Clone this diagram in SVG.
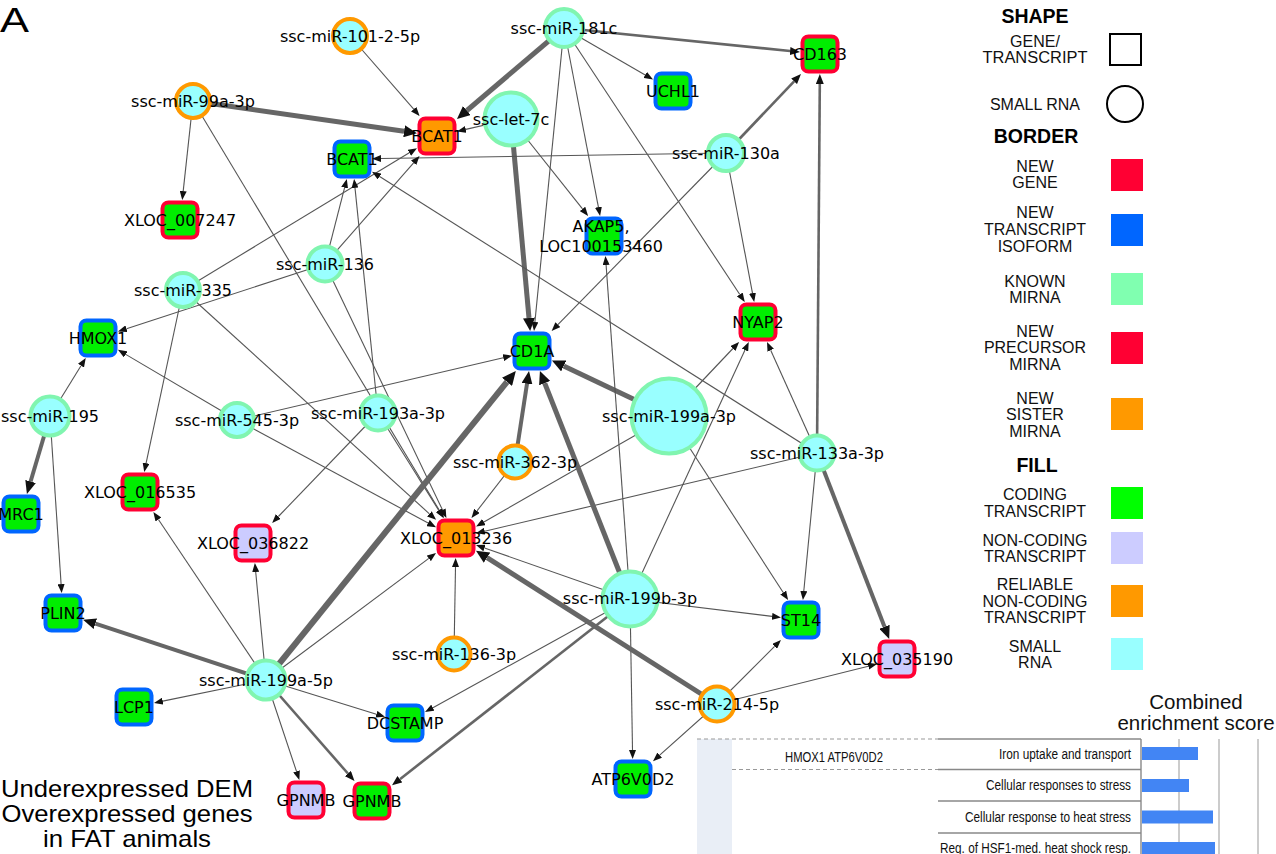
<svg xmlns="http://www.w3.org/2000/svg" width="1276" height="854" viewBox="0 0 1276 854">
<defs>
<style>
.lbl{font-family:"DejaVu Sans",sans-serif;font-size:16px;fill:#000;text-anchor:middle}
.sr{fill:#99ffff;stroke-width:4}
.sq{stroke-width:4}
.bo{stroke:#ff9900}.bk{stroke:#80f5b0}.br{stroke:#ff0033}.bb{stroke:#0066ff}
.fg{fill:#00ee00}.fl{fill:#ccccff}.fo{fill:#ff9900}
.e1{stroke:#555;stroke-width:1.1;fill:none;marker-end:url(#a1)}
.e2{stroke:#666;stroke-width:2.6;fill:none;marker-end:url(#a2)}
.e3{stroke:#666;stroke-width:4;fill:none;marker-end:url(#a3)}
.e4{stroke:#666;stroke-width:5;fill:none;marker-end:url(#a4)}
.e5{stroke:#666;stroke-width:6;fill:none;marker-end:url(#a5)}
.lg{font-family:"Liberation Sans",Arial,sans-serif;font-size:16px;fill:#111;text-anchor:middle}
.lh{font-family:"Liberation Sans",Arial,sans-serif;font-size:19.5px;font-weight:bold;fill:#000;text-anchor:middle}
.ct{font-family:"Liberation Sans",Arial,sans-serif;font-size:14px;fill:#111}
.grid{stroke:#999;stroke-width:1}
.bar{fill:#4285f4}
</style>
<marker id="a1" markerUnits="userSpaceOnUse" markerWidth="9" markerHeight="7" refX="0" refY="3.5" orient="auto"><path d="M0,0 L9,3.5 L0,7 z" fill="#111"/></marker>
<marker id="a2" markerUnits="userSpaceOnUse" markerWidth="10" markerHeight="8" refX="0" refY="4" orient="auto"><path d="M0,0 L10,4 L0,8 z" fill="#111"/></marker>
<marker id="a3" markerUnits="userSpaceOnUse" markerWidth="13" markerHeight="11" refX="0" refY="5.5" orient="auto"><path d="M0,0 L13,5.5 L0,11 z" fill="#111"/></marker>
<marker id="a4" markerUnits="userSpaceOnUse" markerWidth="13" markerHeight="12" refX="0" refY="6" orient="auto"><path d="M0,0 L13,6 L0,12 z" fill="#111"/></marker>
<marker id="a5" markerUnits="userSpaceOnUse" markerWidth="14" markerHeight="13" refX="0" refY="6.5" orient="auto"><path d="M0,0 L14,6.5 L0,13 z" fill="#111"/></marker>
</defs>
<rect width="1276" height="854" fill="#fff"/>
<text x="0" y="32" font-family="Liberation Sans, Arial, sans-serif" font-size="35" textLength="29" lengthAdjust="spacingAndGlyphs">A</text>

<g id="edges">
<line class="e1" x1="350" y1="36" x2="413.7" y2="109.2"/>
<line class="e4" x1="193" y1="101" x2="404.1" y2="131.3"/>
<line class="e1" x1="193" y1="101" x2="183.2" y2="191.1"/>
<line class="e1" x1="193" y1="101" x2="439.3" y2="510.3"/>
<line class="e4" x1="564" y1="28" x2="466.9" y2="110.5"/>
<line class="e2" x1="564" y1="28" x2="790.1" y2="51"/>
<line class="e1" x1="564" y1="28" x2="645.2" y2="74.9"/>
<line class="e1" x1="564" y1="28" x2="598.4" y2="207.1"/>
<line class="e1" x1="564" y1="28" x2="534.9" y2="322"/>
<line class="e1" x1="564" y1="28" x2="739.8" y2="294.5"/>
<line class="e1" x1="511" y1="119" x2="465.8" y2="129.4"/>
<line class="e4" x1="511" y1="119" x2="529" y2="318"/>
<line class="e1" x1="511" y1="119" x2="582.5" y2="208.9"/>
<line class="e2" x1="726" y1="153" x2="794.1" y2="81.3"/>
<line class="e1" x1="726" y1="153" x2="381" y2="158.5"/>
<line class="e1" x1="726" y1="153" x2="752.5" y2="293.1"/>
<line class="e1" x1="726" y1="153" x2="557.9" y2="324.6"/>
<line class="e1" x1="325" y1="264" x2="344.6" y2="187.7"/>
<line class="e1" x1="325" y1="264" x2="413.6" y2="162.8"/>
<line class="e1" x1="325" y1="264" x2="126.5" y2="328.7"/>
<line class="e1" x1="325" y1="264" x2="442.5" y2="509.9"/>
<line class="e1" x1="183" y1="290" x2="409.3" y2="152.8"/>
<line class="e1" x1="183" y1="290" x2="146.1" y2="463.2"/>
<line class="e1" x1="183" y1="290" x2="429.4" y2="513.8"/>
<line class="e1" x1="50" y1="416" x2="81" y2="365.7"/>
<line class="e3" x1="50" y1="416" x2="30.6" y2="481.5"/>
<line class="e1" x1="50" y1="416" x2="61.1" y2="584.1"/>
<line class="e1" x1="237" y1="420" x2="125.7" y2="354.4"/>
<line class="e1" x1="237" y1="420" x2="503.3" y2="357.7"/>
<line class="e1" x1="237" y1="420" x2="428.1" y2="523"/>
<line class="e1" x1="378" y1="413" x2="355" y2="187.9"/>
<line class="e1" x1="378" y1="413" x2="278.4" y2="516.5"/>
<line class="e1" x1="378" y1="413" x2="438.7" y2="510.3"/>
<line class="e4" x1="669" y1="416" x2="563.7" y2="366"/>
<line class="e1" x1="669" y1="416" x2="732.9" y2="348.5"/>
<line class="e1" x1="669" y1="416" x2="483.9" y2="522"/>
<line class="e1" x1="669" y1="416" x2="783.2" y2="592.5"/>
<line class="e2" x1="817" y1="453" x2="819.8" y2="84"/>
<line class="e1" x1="817" y1="453" x2="770.7" y2="350.2"/>
<line class="e1" x1="817" y1="453" x2="379.6" y2="176.5"/>
<line class="e1" x1="817" y1="453" x2="484.7" y2="531.2"/>
<line class="e1" x1="817" y1="453" x2="803.8" y2="591"/>
<line class="e3" x1="817" y1="453" x2="884.5" y2="626.8"/>
<line class="e3" x1="515" y1="462" x2="527" y2="383.8"/>
<line class="e1" x1="515" y1="462" x2="477" y2="510.9"/>
<line class="e4" x1="630" y1="599" x2="544.7" y2="383.1"/>
<line class="e1" x1="630" y1="599" x2="745" y2="350.1"/>
<line class="e1" x1="630" y1="599" x2="606.1" y2="265"/>
<line class="e1" x1="630" y1="599" x2="484.5" y2="548"/>
<line class="e1" x1="630" y1="599" x2="772.1" y2="616.4"/>
<line class="e1" x1="630" y1="599" x2="632.5" y2="750"/>
<line class="e1" x1="630" y1="599" x2="432.9" y2="707.7"/>
<line class="e2" x1="630" y1="599" x2="399.9" y2="779.2"/>
<line class="e1" x1="454" y1="654" x2="455.5" y2="567"/>
<line class="e4" x1="717" y1="704" x2="487" y2="557.7"/>
<line class="e1" x1="717" y1="704" x2="774.6" y2="646.4"/>
<line class="e1" x1="717" y1="704" x2="868.3" y2="666.2"/>
<line class="e1" x1="717" y1="704" x2="659.7" y2="755.2"/>
<line class="e5" x1="266" y1="680" x2="507" y2="381.9"/>
<line class="e3" x1="266" y1="680" x2="95.4" y2="623.7"/>
<line class="e1" x1="266" y1="680" x2="162.8" y2="701.1"/>
<line class="e1" x1="266" y1="680" x2="376.4" y2="714.2"/>
<line class="e1" x1="266" y1="680" x2="296.5" y2="771.4"/>
<line class="e2" x1="266" y1="680" x2="347.9" y2="773.5"/>
<line class="e1" x1="266" y1="680" x2="255.7" y2="572"/>
<line class="e1" x1="266" y1="680" x2="158.4" y2="519.5"/>
<line class="e1" x1="266" y1="680" x2="428.8" y2="558.4"/>
</g>

<g id="n-ssc-miR-101-2-5p"><circle class="sr bo" cx="350" cy="36" r="17"/><text class="lbl" x="350" y="42">ssc-miR-101-2-5p</text></g>
<g id="n-ssc-miR-99a-3p"><circle class="sr bo" cx="193" cy="101" r="17"/><text class="lbl" x="193" y="107">ssc-miR-99a-3p</text></g>
<g id="n-ssc-miR-181c"><circle class="sr bk" cx="564" cy="28" r="19"/><text class="lbl" x="564" y="34">ssc-miR-181c</text></g>
<g id="n-ssc-let-7c"><circle class="sr bk" cx="511" cy="119" r="26.5"/><text class="lbl" x="511" y="125">ssc-let-7c</text></g>
<g id="n-ssc-miR-130a"><circle class="sr bk" cx="726" cy="153" r="18"/><text class="lbl" x="726" y="159">ssc-miR-130a</text></g>
<g id="n-ssc-miR-136"><circle class="sr bk" cx="325" cy="264" r="17.5"/><text class="lbl" x="325" y="270">ssc-miR-136</text></g>
<g id="n-ssc-miR-335"><circle class="sr bk" cx="183" cy="290" r="17"/><text class="lbl" x="183" y="296">ssc-miR-335</text></g>
<g id="n-ssc-miR-195"><circle class="sr bk" cx="50" cy="416" r="19.5"/><text class="lbl" x="50" y="422">ssc-miR-195</text></g>
<g id="n-ssc-miR-545-3p"><circle class="sr bk" cx="237" cy="420" r="17"/><text class="lbl" x="237" y="426">ssc-miR-545-3p</text></g>
<g id="n-ssc-miR-193a-3p"><circle class="sr bk" cx="378" cy="413" r="17.5"/><text class="lbl" x="378" y="419">ssc-miR-193a-3p</text></g>
<g id="n-ssc-miR-199a-3p"><circle class="sr bk" cx="669" cy="416" r="37.5"/><text class="lbl" x="669" y="422">ssc-miR-199a-3p</text></g>
<g id="n-ssc-miR-362-3p"><circle class="sr bo" cx="515" cy="462" r="16.5"/><text class="lbl" x="515" y="468">ssc-miR-362-3p</text></g>
<g id="n-ssc-miR-133a-3p"><circle class="sr bk" cx="817" cy="453" r="17.5"/><text class="lbl" x="817" y="459">ssc-miR-133a-3p</text></g>
<g id="n-ssc-miR-199b-3p"><circle class="sr bk" cx="630" cy="599" r="27.5"/><text class="lbl" x="630" y="604">ssc-miR-199b-3p</text></g>
<g id="n-ssc-miR-136-3p"><circle class="sr bo" cx="454" cy="654" r="16.5"/><text class="lbl" x="454" y="660">ssc-miR-136-3p</text></g>
<g id="n-ssc-miR-214-5p"><circle class="sr bo" cx="717" cy="704" r="17.5"/><text class="lbl" x="717" y="710">ssc-miR-214-5p</text></g>
<g id="n-ssc-miR-199a-5p"><circle class="sr bk" cx="266" cy="680" r="19.5"/><text class="lbl" x="266" y="686">ssc-miR-199a-5p</text></g>

<g id="n-BCAT1-new"><rect class="sq br fo" x="419.5" y="118.5" width="35" height="35" rx="6"/><text class="lbl" x="437" y="142">BCAT1</text></g>
<g id="n-BCAT1-isoform"><rect class="sq bb fg" x="334.5" y="141.5" width="35" height="35" rx="6"/><text class="lbl" x="352" y="165">BCAT1</text></g>
<g id="n-XLOC_007247"><rect class="sq br fg" x="162.5" y="202.5" width="35" height="35" rx="6"/><text class="lbl" x="180" y="226">XLOC_007247</text></g>
<g id="n-UCHL1"><rect class="sq bb fg" x="655.5" y="73.5" width="35" height="35" rx="6"/><text class="lbl" x="673" y="97">UCHL1</text></g>
<g id="n-CD163"><rect class="sq br fg" x="802.5" y="36.5" width="35" height="35" rx="6"/><text class="lbl" x="820" y="60">CD163</text></g>
<g id="n-AKAP5"><rect class="sq bb fg" x="586.5" y="218.5" width="35" height="35" rx="6"/><text class="lbl" x="601" y="232">AKAP5,</text><text class="lbl" x="601" y="251.5">LOC100153460</text></g>
<g id="n-HMOX1"><rect class="sq bb fg" x="80.5" y="320.5" width="35" height="35" rx="6"/><text class="lbl" x="98" y="344">HMOX1</text></g>
<g id="n-MRC1"><rect class="sq bb fg" x="3.5" y="496.5" width="35" height="35" rx="6"/><text class="lbl" x="21" y="520">MRC1</text></g>
<g id="n-XLOC_016535"><rect class="sq br fg" x="122.5" y="474.5" width="35" height="35" rx="6"/><text class="lbl" x="140" y="498">XLOC_016535</text></g>
<g id="n-XLOC_036822"><rect class="sq br fl" x="235.5" y="525.5" width="35" height="35" rx="6"/><text class="lbl" x="253" y="549">XLOC_036822</text></g>
<g id="n-XLOC_013236"><rect class="sq br fo" x="438.5" y="520.5" width="35" height="35" rx="6"/><text class="lbl" x="456" y="544">XLOC_013236</text></g>
<g id="n-CD1A"><rect class="sq bb fg" x="514.5" y="333.5" width="35" height="35" rx="6"/><text class="lbl" x="532" y="357">CD1A</text></g>
<g id="n-NYAP2"><rect class="sq br fg" x="740.5" y="304.5" width="35" height="35" rx="6"/><text class="lbl" x="758" y="328">NYAP2</text></g>
<g id="n-PLIN2"><rect class="sq bb fg" x="45.5" y="595.5" width="35" height="35" rx="6"/><text class="lbl" x="63" y="619">PLIN2</text></g>
<g id="n-LCP1"><rect class="sq bb fg" x="116.5" y="689.5" width="35" height="35" rx="6"/><text class="lbl" x="134" y="713">LCP1</text></g>
<g id="n-DCSTAMP"><rect class="sq bb fg" x="387.5" y="705.5" width="35" height="35" rx="6"/><text class="lbl" x="405" y="729">DCSTAMP</text></g>
<g id="n-GPNMB-noncoding"><rect class="sq br fl" x="288.5" y="782.5" width="35" height="35" rx="6"/><text class="lbl" x="306" y="806">GPNMB</text></g>
<g id="n-GPNMB-coding"><rect class="sq br fg" x="354.5" y="783.5" width="35" height="35" rx="6"/><text class="lbl" x="372" y="807">GPNMB</text></g>
<g id="n-ST14"><rect class="sq bb fg" x="783.5" y="602.5" width="35" height="35" rx="6"/><text class="lbl" x="801" y="626">ST14</text></g>
<g id="n-XLOC_035190"><rect class="sq br fl" x="879.5" y="641.5" width="35" height="35" rx="6"/><text class="lbl" x="897" y="665">XLOC_035190</text></g>
<g id="n-ATP6V0D2"><rect class="sq bb fg" x="615.5" y="761.5" width="35" height="35" rx="6"/><text class="lbl" x="633" y="785">ATP6V0D2</text></g>

<g id="caption" font-family="Liberation Sans, Arial, sans-serif" font-size="24" text-anchor="middle" fill="#000">
<text x="127" y="797" textLength="252" lengthAdjust="spacingAndGlyphs">Underexpressed DEM</text>
<text x="127" y="822" textLength="251" lengthAdjust="spacingAndGlyphs">Overexpressed genes</text>
<text x="127" y="847" textLength="168" lengthAdjust="spacingAndGlyphs">in FAT animals</text>
</g>

<g id="legend">
<text class="lh" x="1035" y="23">SHAPE</text>
<text class="lg" x="1035" y="47">GENE/</text>
<text class="lg" x="1035" y="63" textLength="105" lengthAdjust="spacingAndGlyphs">TRANSCRIPT</text>
<rect x="1110" y="34" width="31" height="31" fill="#fff" stroke="#000" stroke-width="2"/>
<text class="lg" x="1035" y="110">SMALL RNA</text>
<circle cx="1125" cy="104" r="18" fill="#fff" stroke="#000" stroke-width="2"/>
<text class="lh" x="1036" y="143">BORDER</text>
<text class="lg" x="1035" y="172">NEW</text>
<text class="lg" x="1035" y="188">GENE</text>
<rect x="1111" y="159" width="32" height="32" fill="#ff0033"/>
<text class="lg" x="1035" y="218">NEW</text>
<text class="lg" x="1035" y="235">TRANSCRIPT</text>
<text class="lg" x="1035" y="252">ISOFORM</text>
<rect x="1111" y="214" width="32" height="32" fill="#0066ff"/>
<text class="lg" x="1035" y="287">KNOWN</text>
<text class="lg" x="1035" y="303">MIRNA</text>
<rect x="1111" y="273" width="32" height="32" fill="#80ffb0"/>
<text class="lg" x="1035" y="337">NEW</text>
<text class="lg" x="1035" y="353">PRECURSOR</text>
<text class="lg" x="1035" y="370">MIRNA</text>
<rect x="1111" y="332" width="32" height="32" fill="#ff0033"/>
<text class="lg" x="1035" y="404">NEW</text>
<text class="lg" x="1035" y="420">SISTER</text>
<text class="lg" x="1035" y="437">MIRNA</text>
<rect x="1111" y="398" width="32" height="32" fill="#ff9900"/>
<text class="lh" x="1037" y="472">FILL</text>
<text class="lg" x="1035" y="500">CODING</text>
<text class="lg" x="1035" y="517">TRANSCRIPT</text>
<rect x="1111" y="487" width="32" height="32" fill="#00ff00"/>
<text class="lg" x="1035" y="546">NON-CODING</text>
<text class="lg" x="1035" y="562">TRANSCRIPT</text>
<rect x="1111" y="532" width="32" height="32" fill="#ccccff"/>
<text class="lg" x="1035" y="590">RELIABLE</text>
<text class="lg" x="1035" y="607">NON-CODING</text>
<text class="lg" x="1035" y="623">TRANSCRIPT</text>
<rect x="1111" y="585" width="32" height="32" fill="#ff9900"/>
<text class="lg" x="1035" y="652">SMALL</text>
<text class="lg" x="1035" y="668">RNA</text>
<rect x="1111" y="638" width="32" height="32" fill="#99ffff"/>
</g>

<g id="enrichment-chart">
<text x="1196" y="709" font-family="Liberation Sans, Arial, sans-serif" font-size="20.5" text-anchor="middle" fill="#111">Combined</text>
<text x="1196" y="730" font-family="Liberation Sans, Arial, sans-serif" font-size="20.5" text-anchor="middle" fill="#111">enrichment score</text>
<rect x="697" y="739" width="35" height="115" fill="#e9eef6"/>
<line x1="697" y1="739" x2="938" y2="739" stroke="#999" stroke-width="1.2" stroke-dasharray="4,3"/>
<line x1="938" y1="739" x2="1141" y2="739" stroke="#888" stroke-width="1.4"/>
<line x1="732" y1="769.5" x2="938" y2="769.5" stroke="#999" stroke-width="1.2" stroke-dasharray="4,3"/>
<line x1="938" y1="769.5" x2="1141" y2="769.5" stroke="#888" stroke-width="1.4"/>
<line x1="938" y1="801" x2="1141" y2="801" stroke="#888" stroke-width="1.4"/>
<line x1="938" y1="833" x2="1141" y2="833" stroke="#888" stroke-width="1.4"/>
<line class="grid" x1="1179" y1="739" x2="1179" y2="854"/>
<line class="grid" x1="1219" y1="739" x2="1219" y2="854"/>
<line class="grid" x1="1258" y1="739" x2="1258" y2="854"/>
<line x1="1141" y1="739" x2="1141" y2="854" stroke="#888" stroke-width="1.4"/>
<rect class="bar" x="1142" y="747" width="56" height="13"/>
<rect class="bar" x="1142" y="779" width="47" height="13"/>
<rect class="bar" x="1142" y="810.5" width="71" height="13"/>
<rect class="bar" x="1142" y="842" width="73" height="13"/>
<text class="ct" x="785" y="762" textLength="98" lengthAdjust="spacingAndGlyphs">HMOX1 ATP6V0D2</text>
<text class="ct" x="1131" y="759" text-anchor="end" textLength="132" lengthAdjust="spacingAndGlyphs">Iron uptake and transport</text>
<text class="ct" x="1131" y="790" text-anchor="end" textLength="145" lengthAdjust="spacingAndGlyphs">Cellular responses to stress</text>
<text class="ct" x="1131" y="822" text-anchor="end" textLength="166" lengthAdjust="spacingAndGlyphs">Cellular response to heat stress</text>
<text class="ct" x="1131" y="853" text-anchor="end" textLength="191" lengthAdjust="spacingAndGlyphs">Reg. of HSF1-med. heat shock resp.</text>
</g>
</svg>
